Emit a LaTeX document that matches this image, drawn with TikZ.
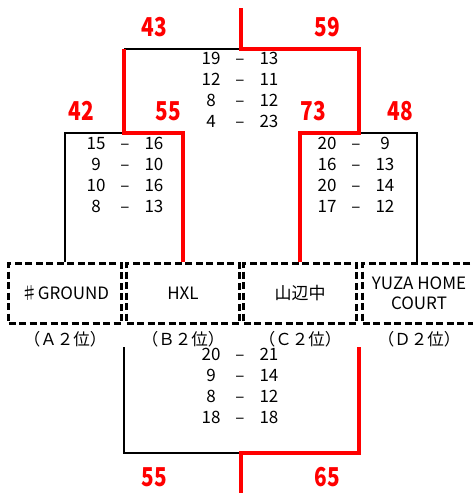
\documentclass[tikz,border=0pt]{standalone}
\usepackage{fontspec}
\setmainfont{Noto Sans CJK JP}
\newcommand\res[1]{\begin{tabular}{c@{\hspace{15pt}}c@{\hspace{15pt}}c}#1\end{tabular}}
\begin{document}
\begin{tikzpicture}[x=1pt,y=-1pt]
\tikzstyle{team}=[draw=black, line width=2.5pt, dash pattern=on 7pt off 3.5pt, minimum width=113pt, minimum height=60pt, inner sep=0pt, align=center, font=\fontsize{17}{20}\selectfont]
\tikzstyle{rank}=[inner sep=0pt, font=\fontsize{16.5}{17}\selectfont]
\tikzstyle{score}=[inner sep=0pt, font=\fontsize{17}{21}\selectfont]
\tikzstyle{pts}=[text=red, inner sep=0pt, font=\fontsize{26}{26}\selectfont\bfseries]
\tikzstyle{lose}=[draw=black, line width=2pt]
\tikzstyle{win}=[draw=red, line width=4.5pt]

\useasboundingbox (0,0) rectangle (472,493);

% teams
\foreach \n/\x/\t/\r in {A/65/{♯GROUND}/Ａ, B/183/HXL/Ｂ, C/300/山辺中/Ｃ, D/419/{YUZA HOME\\COURT}/Ｄ} {
\node [team] (\n) at (\x,293.5) {\t};
\node [rank] (r\n) at (\x,339) {（\r２位）};
}

\coordinate (ab) at (124,133);
\coordinate (cd) at (359,133);
\coordinate (semi) at (241,49);
\coordinate (top) at (241,8);
\coordinate (bl) at (124,347);
\coordinate (br) at (359,347);
\coordinate (fin) at (241,453);
\coordinate (bot) at (241,495);

% losers first, winners on top
\draw [lose] (A.north) |- (ab);
\draw [lose] (D.north -| 417,0) |- (cd);
\draw [lose] (ab |- semi) -- (semi);
\draw [lose] (bl) |- (fin);
\draw [win] (B.north) |- (ab) -- (ab |- semi);
\draw [win] (C.north) |- (cd) |- (semi) -- (top);
\draw [win] (br) |- (fin) -- (bot);

% scores
\node [score] (sab) at (125,177) {\res{15 & – & 16\\ 9 & – & 10\\ 10 & – & 16\\ 8 & – & 13}};
\node [score] (scd) at (356,177) {\res{20 & – & 9\\ 16 & – & 13\\ 20 & – & 14\\ 17 & – & 12}};
\node [score] (ssemi) at (240,92) {\res{19 & – & 13\\ 12 & – & 11\\ 8 & – & 12\\ 4 & – & 23}};
\node [score] (sfin) at (240,388) {\res{20 & – & 21\\ 9 & – & 14\\ 8 & – & 12\\ 18 & – & 18}};

\node [pts] (pA) at (81,111) {\scalebox{0.8}[1]{42}};
\node [pts] (pB) at (168,111) {\scalebox{0.8}[1]{55}};
\node [pts] (pC) at (313,111) {\scalebox{0.8}[1]{73}};
\node [pts] (pD) at (400,111) {\scalebox{0.8}[1]{48}};
\node [pts] (pL) at (154,27) {\scalebox{0.8}[1]{43}};
\node [pts] (pR) at (327,27) {\scalebox{0.8}[1]{59}};
\node [pts] (fL) at (154,477) {\scalebox{0.8}[1]{55}};
\node [pts] (fR) at (327,477) {\scalebox{0.8}[1]{65}};

\end{tikzpicture}
\end{document}
